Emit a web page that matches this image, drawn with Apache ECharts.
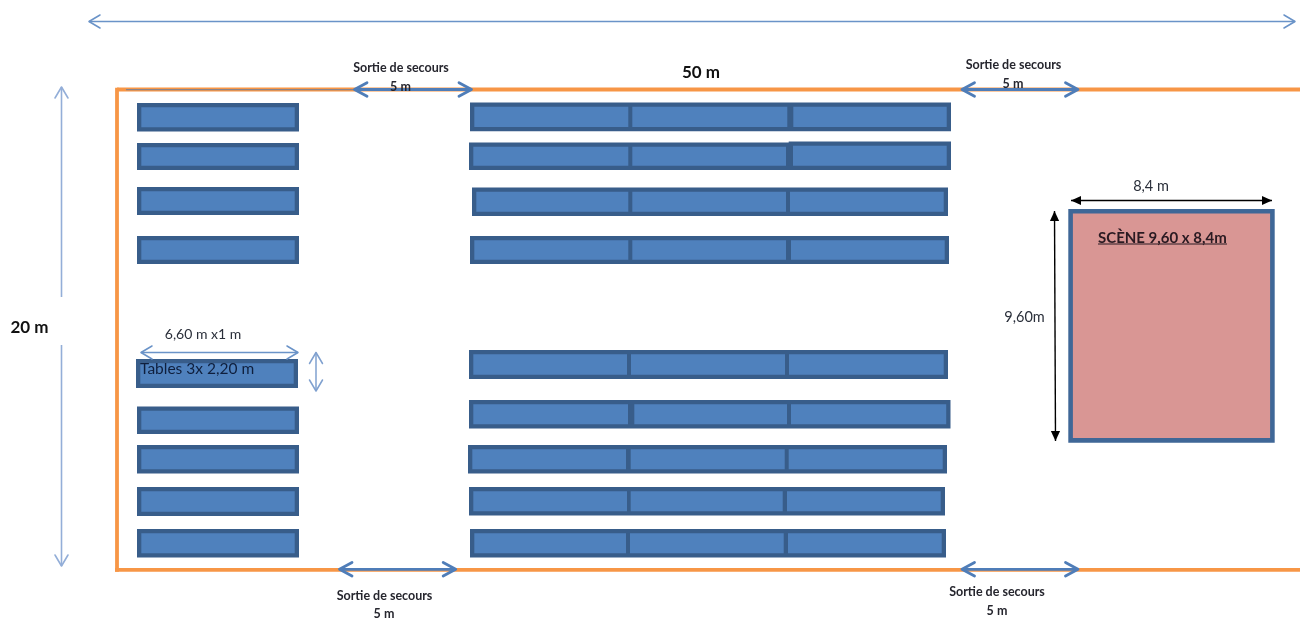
<!DOCTYPE html>
<html><head><meta charset="utf-8">
<style>html,body{margin:0;padding:0;background:#fff}#c{width:1300px;height:618px}</style>
<script src="https://cdn.jsdelivr.net/npm/echarts@6/dist/echarts.min.js"></script>
</head><body><div id="c"></div>
<script>
// Plan units: one unit = one picture pixel, y grows downward.
// [x0, x1, y0, y1]
const leftTables = [
  [137,299,103,131.5],[137,299,143,170],[137,299,187,215],[137,299,236,264],
  [136,298,359,388],[137,299,406.5,434],[137,299,445,473.5],[137,299,487,516],[137,299,529,557.5]
];
// [x0, divider1 left, divider1 right, divider2 left, divider2 right, x1, y0, y1]
const middleRows = [
  [470,628.3,632.3,787.3,793.3,951,102.5,131.3],
  [469,628.3,632.3,786,793,951,142.5,170],
  [472,628.3,632.3,786,790,948,187.5,216],
  [470,628.3,632.3,786,791,949,236,264],
  [469,627,631,785,789,948,350,379],
  [469,628,634.3,787,791,950.5,400,428.5],
  [468,626,630.7,784.7,788.7,947,445,473.5],
  [469,627,630.7,782.7,787,945,487,515.5],
  [470,626,630,783.7,788,946,529,557.5]
];
const raisedSegments = [[788.7,951,141.5,170]];
const stage = [[1068.3,1274.7,209,442.7]];
// [x0,y0,x1,y1]
const wallLines = [[117,89.5,1300,89.5],[117,87.7,117,571.8],[115,569.8,1300,569.8]];
const wallGuide = [[126,89.7,356,89.7]];
const doorArrows = [[354.5,89.5,471.5,89.5],[339.5,569.3,455.7,569.3],[962,89.5,1078,89.5],[962,569.3,1078,569.3]];
const thinArrows = [[89,21.5,1295,21.5],[141,352.5,298,352.5]];
const paleArrows = [[61.5,297,61.5,87],[61.5,345,61.5,566]];
const smallVertical = [[316,352.5,316,391]];
const blackArrows = [[1071,200.5,1272,200.5],[1054.5,211,1055.5,441]];
const underlines = [[1098,244,1227,244]];
// [x, y] anchor, texts and fonts alongside
const labelPoints = [
  [401,67.7],[400.5,86.7],[1013.5,64.7],[1013,83.7],[384.5,595.7],[384,613.7],[997,591.7],[997,610.7],
  [701,72.7],[29.5,327.7],[203,334.7],[140,368.7],[1151,186.7],[1098,237.7],[1024.5,317.7]
];
const labelTexts = [
  'Sortie de secours','5 m','Sortie de secours','5 m','Sortie de secours','5 m','Sortie de secours','5 m',
  '50 m','20 m','6,60 m x1 m','Tables 3x 2,20 m','8,4 m','SCÈNE 9,60 x 8,4m','9,60m'
];
const labelStyles = [0,0,0,0,0,0,0,0,1,1,5,3,2,4,2];

const FONT='Lato, "Open Sans", sans-serif';
const styleDefs = [
  {font:'bold 12.5px '+FONT, fill:'#26262e', align:'center'},
  {font:'bold 17px '+FONT, fill:'#111111', align:'center'},
  {font:'14.5px '+FONT, fill:'#2a2f3a', align:'center'},
  {font:'15.5px '+FONT, fill:'#0f1f3d', align:'left'},
  {font:'bold 15px '+FONT, fill:'#2a1a22', align:'left'},
  {font:'14px '+FONT, fill:'#2a2f3a', align:'center'}
];
const TF='#4F81BD', TS='#385D8A', BW=4.3;

function base(rows, renderItem, extra){
  return Object.assign({type:'custom', coordinateSystem:'cartesian2d', silent:true, animation:false, clip:false,
    data: rows, renderItem}, extra||{});
}
function boxes(rows, fill, stroke, w){
  return base(rows,(p, api)=>{
    const d = rows[p.dataIndex];
    const a = api.coord([d[0],d[2]]), b = api.coord([d[1],d[3]]);
    return {type:'rect', shape:{x:a[0]+w/2,y:a[1]+w/2,width:b[0]-a[0]-w,height:b[1]-a[1]-w},
      style:{fill:fill,stroke:stroke,lineWidth:w}};
  });
}
function tableRows(rows){
  return base(rows,(p, api)=>{
    const d = rows[p.dataIndex];
    const tl = api.coord([d[0],d[6]]), br = api.coord([d[5],d[7]]);
    const xs=[[d[0],d[1]],[d[2],d[3]],[d[4],d[5]]];
    const kids=[{type:'rect',shape:{x:tl[0],y:tl[1],width:br[0]-tl[0],height:br[1]-tl[1]},style:{fill:TS}}];
    xs.forEach((s,i)=>{
      const l=api.coord([s[0],d[6]])[0]+(i===0?BW:0), r=api.coord([s[1],d[6]])[0]-(i===2?BW:0);
      kids.push({type:'rect',shape:{x:l,y:tl[1]+BW,width:r-l,height:br[1]-tl[1]-2*BW},style:{fill:TF}});
    });
    return {type:'group',children:kids};
  });
}
function lines(rows, color, w, head, solid, oneEnd){
  return base(rows,(p, api)=>{
    const d = rows[p.dataIndex];
    const a = api.coord([d[0],d[1]]), b = api.coord([d[2],d[3]]);
    const kids = [{type:'line',shape:{x1:a[0],y1:a[1],x2:b[0],y2:b[1]},style:{stroke:color,lineWidth:w}}];
    if(head){
      const ang = Math.atan2(b[1]-a[1],b[0]-a[0]);
      const ends = oneEnd ? [[b,ang]] : [[a,ang+Math.PI],[b,ang]];
      ends.forEach(([t,g])=>{
        const L=head[0],H=head[1];
        const bx=t[0]-L*Math.cos(g),by=t[1]-L*Math.sin(g);
        const pts=[[bx-H*Math.sin(g),by+H*Math.cos(g)],[t[0],t[1]],[bx+H*Math.sin(g),by-H*Math.cos(g)]];
        kids.push(solid
          ? {type:'polygon',shape:{points:pts},style:{fill:color}}
          : {type:'polyline',shape:{points:pts},style:{stroke:color,lineWidth:w,fill:'none',lineJoin:'round',lineCap:'round'}});
      });
    }
    return {type:'group',children:kids};
  });
}

const chart = echarts.init(document.getElementById('c'),null,{renderer:'canvas'});
chart.setOption({
  animation:false, backgroundColor:'#fff',
  grid:{left:0,right:0,top:0,bottom:0},
  xAxis:{type:'value',min:0,max:1300,show:false},
  yAxis:{type:'value',min:0,max:618,inverse:true,show:false},
  tooltip:{show:false},
  series:[
    lines(wallLines,'#F79646',3.8),
    lines(wallGuide,'#6f7f9a',1),
    boxes(leftTables,TF,TS,BW),
    tableRows(middleRows),
    boxes(raisedSegments,TF,TS,BW),
    boxes(stage,'#D99694','#3F6797',4.6),
    lines(doorArrows,'#4F7DB8',2.8,[12.5,6.8],false),
    lines(thinArrows,'#6A93C8',1.5,[11,6.5],false),
    lines(paleArrows,'#93AED8',1.6,[11,6.5],false,true),
    lines(smallVertical,'#7FA0CF',1.5,[11,6.5],false),
    lines(blackArrows,'#000000',1.4,[10,4.6],true),
    lines(underlines,'#2a1a22',1.1),
    base(labelPoints,(p,api)=>{
       const d=labelPoints[p.dataIndex], a=api.coord(d), s=styleDefs[labelStyles[p.dataIndex]];
       return {type:'text',x:a[0],y:a[1],style:{text:labelTexts[p.dataIndex],font:s.font,fill:s.fill,align:s.align,verticalAlign:'middle'}};
    },{z:20})
  ]
});
</script></body></html>
